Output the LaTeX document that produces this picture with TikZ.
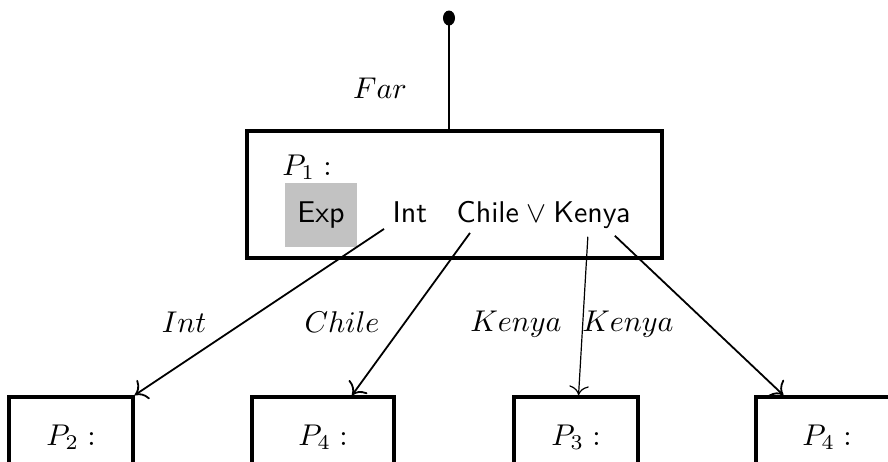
\documentclass[tikz,border=0pt]{standalone}
\usetikzlibrary{calc,arrows.meta,positioning}
\definecolor{expgray}{gray}{0.76}
\tikzset{
  pbox/.style={draw, line width=1.2pt, minimum height=26.7pt},
  flow/.style={-{To[scale=1.25]}, line width=0.6pt},
  attr/.style={font=\sffamily, anchor=base west},
}
\begin{document}
\begin{tikzpicture}[scale=0.11715]
\tikzstyle{every node}+=[inner sep=0pt]
\useasboundingbox (0,0) rectangle (88.8,-46.1);
\clip (0,0) rectangle (88.8,-46.1);

\node (p1) [pbox, minimum width=138.3pt, minimum height=42.3pt] at (45.45,-19.45) {};
\node (p1name) at (30.7,-16.7) {$P_1:$};
\node (exp) [font=\sffamily, fill=expgray, minimum width=24pt, minimum height=21.3pt] at (32.1,-21.5) {Exp};
\node (int) [attr] at (39.2,-22.2) {Int};
\node (chile) [attr] at (45.6,-22.2) {Chile};
\node (or) [right=2pt of chile.base east, anchor=base west] {$\vee$};
\node (kenya) [attr, right=2pt of or.base east, anchor=base west] {Kenya};

\node (p2) [pbox, minimum width=41.3pt] at (7.1,-43.7) {$P_2:$};
\node (p4a) [pbox, minimum width=47.3pt] at (32.3,-43.7) {$P_4:$};
\node (p3) [pbox, minimum width=41.3pt] at (57.6,-43.7) {$P_3:$};
\node (p4b) [pbox, minimum width=47.3pt] at (82.7,-43.7) {$P_4:$};

\coordinate (root) at (44.9,-1.8);
\fill (root) ellipse (0.6 and 0.75);
\draw [line width=0.7pt] (root) -- (root |- p1.north);
\node (far) at (38,-8.8) {$Far$};

\draw [flow] ($(int.south west)+(-0.8,-0.6)$) -- (p2.north east);
\node (intlbl) at (18.4,-32.2) {$Int$};

\draw [flow] ($(chile.south west)+(1.4,-1)$) -- ($(p4a.north west)!0.7!(p4a.north east)$);
\node (chilelbl) at (34.2,-32.2) {$Chile$};

\draw [flow, line width=0.4pt] ($(kenya.south)+(-0.4,-0.8)$) -- ($(p3.north west)!0.52!(p3.north east)$);
\node (kenyalbl1) at (51.6,-32.4) {$Kenya$};

\draw [flow] ($(kenya.south)+(2.3,-0.7)$) -- ($(p4b.north west)!0.2!(p4b.north east)$);
\node (kenyalbl2) at (62.8,-32.4) {$Kenya$};
\end{tikzpicture}
\end{document}
